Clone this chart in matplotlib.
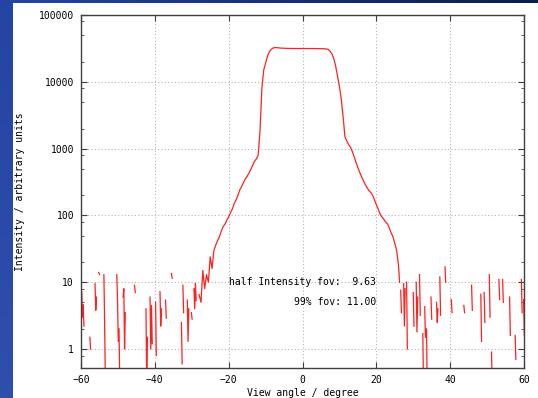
import numpy as np
import matplotlib.pyplot as plt
from matplotlib.patches import Rectangle
from matplotlib.ticker import LogLocator, FixedLocator, NullFormatter

# noise bursts in the wings: (start angle, intensities sampled every 0.2 degree)
left_bursts = [
    (-59.8, [7.2, 3.0, 4.6, 2.2]),
    (-57.6, [1.5, 1.0]),
    (-56.2, [9.5, 3.8, 6.0]),
    (-55.2, [14, 13]),
    (-53.8, [13, 2.5, 0.3]),
    (-50.3, [13, 5.0, 1.3]),
    (-49.7, [2.0, 0.3]),
    (-48.6, [6.0, 8.0, 1.0, 3.5]),
    (-45.5, [9.0, 7.0]),
    (-42.4, [4.0, 0.3, 1.5]),
    (-41.3, [6.0, 1.0, 4.5, 1.2]),
    (-39.8, [5.0, 0.8]),
    (-38.6, [7.2, 2.2, 4.0]),
    (-37.1, [5.4, 2.9]),
    (-35.5, [13.5, 11.5]),
    (-32.8, [2.5, 0.6]),
    (-32.4, [9.0, 3.5]),
    (-31.2, [5.4, 1.3, 4.0]),
    (-30.1, [3.5, 2.8]),
    (-29.4, [8.0, 4.0, 9.6, 5.3]),
]
right_bursts = [
    (26.6, [7.6, 3.5]),
    (27.4, [9.5, 2.2, 8.0]),
    (28.2, [10, 1.0]),
    (30.0, [7.0, 2.2]),
    (30.8, [10, 1.8, 6.0]),
    (31.7, [13, 3.2]),
    (32.6, [1.7, 0.2]),
    (33.1, [4.3, 1.5]),
    (33.6, [2.0, 0.2]),
    (34.8, [6.0, 2.8]),
    (36.3, [5.0, 2.5, 4.0]),
    (37.2, [12, 3.2]),
    (38.6, [17, 10]),
    (40.3, [5.5, 3.5]),
    (43.7, [4.5, 3.5]),
    (45.8, [9.0, 3.8]),
    (48.3, [6.6, 1.3]),
    (49.2, [7.0, 2.5]),
    (50.6, [13, 3.0]),
    (51.2, [0.9, 0.3]),
    (53.2, [11, 5.5]),
    (54.2, [11, 5.0]),
    (56.1, [6.0, 1.6]),
    (57.6, [1.6, 0.7]),
    (59.3, [11, 3.5]),
    (59.9, [5.5, 1.6]),
]

# main lobe: (view angle in degree, intensity)
core = [
    (-28.0, 6.5), (-27.5, 5), (-27.0, 15), (-26.5, 8), (-26.0, 13), (-25.5, 10),
    (-25.0, 24), (-24.5, 16), (-24.0, 30), (-23.5, 36), (-23.0, 42),
    (-22.5, 48), (-22.0, 58), (-21.5, 68), (-21.0, 74), (-20.5, 85),
    (-20.0, 95), (-19.5, 110), (-19.0, 125), (-18.5, 150), (-18.0, 170),
    (-17.5, 200), (-17.0, 240), (-16.5, 270), (-16.0, 310), (-15.5, 350),
    (-15.0, 385), (-14.5, 430), (-14.0, 490), (-13.5, 560), (-13.0, 650),
    (-12.5, 700), (-12.0, 800), (-11.5, 1900), (-11.0, 8000), (-10.5, 15000),
    (-10.0, 19000), (-9.5, 24000), (-9.0, 28000), (-8.5, 30500), (-8.0, 32000),
    (-7.5, 32500), (-7.0, 32500), (-6.5, 32200), (-6.0, 32000), (-5.0, 31800),
    (-4.0, 31600), (-2.0, 31500), (0.0, 31500), (2.0, 31500),
    (4.0, 31400), (6.0, 31200), (6.5, 31000), (7.0, 30500), (7.5, 28500),
    (8.0, 26000), (8.5, 22000), (9.0, 17000), (9.5, 12000), (10.0, 8500),
    (10.5, 5500), (11.0, 3000), (11.5, 1500), (12.0, 1300), (12.5, 1150),
    (13.0, 1050), (13.5, 900), (14.0, 750), (14.5, 620), (15.0, 520),
    (15.5, 440), (16.0, 380), (16.5, 330), (17.0, 290), (17.5, 260),
    (18.0, 235), (18.5, 220), (19.0, 200), (19.5, 170), (20.0, 145),
    (20.5, 125), (21.0, 105), (21.5, 95), (22.0, 88), (22.5, 80),
    (23.0, 75), (23.5, 65), (24.0, 55), (24.5, 48), (25.0, 38),
    (25.5, 30), (26.0, 18), (26.3, 10),
]

half_fov = 9.63
fov_99 = 11.00


def bursts_to_xy(bursts, step=0.2):
    xs, ys = [], []
    for start, vals in bursts:
        for i, v in enumerate(vals):
            xs.append(start + i * step)
            ys.append(v)
        xs.append(xs[-1])
        ys.append(np.nan)
    return xs, ys


lx, ly = bursts_to_xy(left_bursts)
rx, ry = bursts_to_xy(right_bursts)
cx, cy = zip(*core)

fig = plt.figure(figsize=(5.38, 3.98), dpi=100)

# blue slide background with a white sheet on top
bg = fig.add_axes([0, 0, 1, 1], zorder=-10)
bg.axis('off')
gx = np.linspace(0, 1, 64)[None, :, None]
gy = np.linspace(0, 1, 64)[:, None, None]
c0 = np.array([0.14, 0.27, 0.64])
c1 = np.array([0.05, 0.11, 0.32])
grad = c0 * (1 - gx) + c1 * gx + 0.04 * gy
bg.imshow(np.clip(grad, 0, 1), extent=[0, 1, 0, 1], aspect='auto')
fig.patches.append(Rectangle((13 / 538, 0), 525 / 538, 395 / 398,
                             transform=fig.transFigure, facecolor='white',
                             edgecolor='none', zorder=-5))

mono = 'DejaVu Sans Mono'
fs = 7
red = '#ff2020'

ax = fig.add_axes([81 / 538, 30 / 398, 443 / 538, 353 / 398])
ax.set_facecolor('white')
ax.plot(lx, ly, color=red, lw=0.9)
ax.plot(cx, cy, color=red, lw=0.9)
ax.plot(rx, ry, color=red, lw=0.9)

ax.set_yscale('log')
ax.set_xlim(-60, 60)
ax.set_ylim(0.52, 100000)
ax.xaxis.set_major_locator(FixedLocator([-60, -40, -20, 0, 20, 40, 60]))
ax.yaxis.set_major_locator(FixedLocator([1, 10, 100, 1000, 10000, 100000]))
ax.yaxis.set_minor_locator(LogLocator(base=10, subs=[2, 5, 8]))
ax.yaxis.set_minor_formatter(NullFormatter())
ax.set_yticklabels(['1', '10', '100', '1000', '10000', '100000'])

ax.grid(True, which='major', color='#b4b4b4', ls=(0, (1, 2)), lw=0.8)
ax.tick_params(which='both', direction='in', top=True, right=True,
               color='#404040', labelsize=fs, pad=5)
ax.tick_params(which='major', length=4)
ax.tick_params(which='minor', length=2.5)
for lab in ax.get_xticklabels() + ax.get_yticklabels():
    lab.set_family(mono)
for s in ax.spines.values():
    s.set_color('#404040')
    s.set_linewidth(1)

ax.set_xlabel('View angle / degree', family=mono, fontsize=fs, labelpad=2)
ax.set_ylabel('Intensity / arbitrary units', family=mono, fontsize=fs, labelpad=10)

ax.text(20, 10, f'half Intensity fov:  {half_fov:.2f}', family=mono, fontsize=fs,
        ha='right', va='center')
ax.text(20, 10 ** 0.7, f'99% fov: {fov_99:.2f}', family=mono, fontsize=fs,
        ha='right', va='center')

fig.savefig('out.png', dpi=100)
